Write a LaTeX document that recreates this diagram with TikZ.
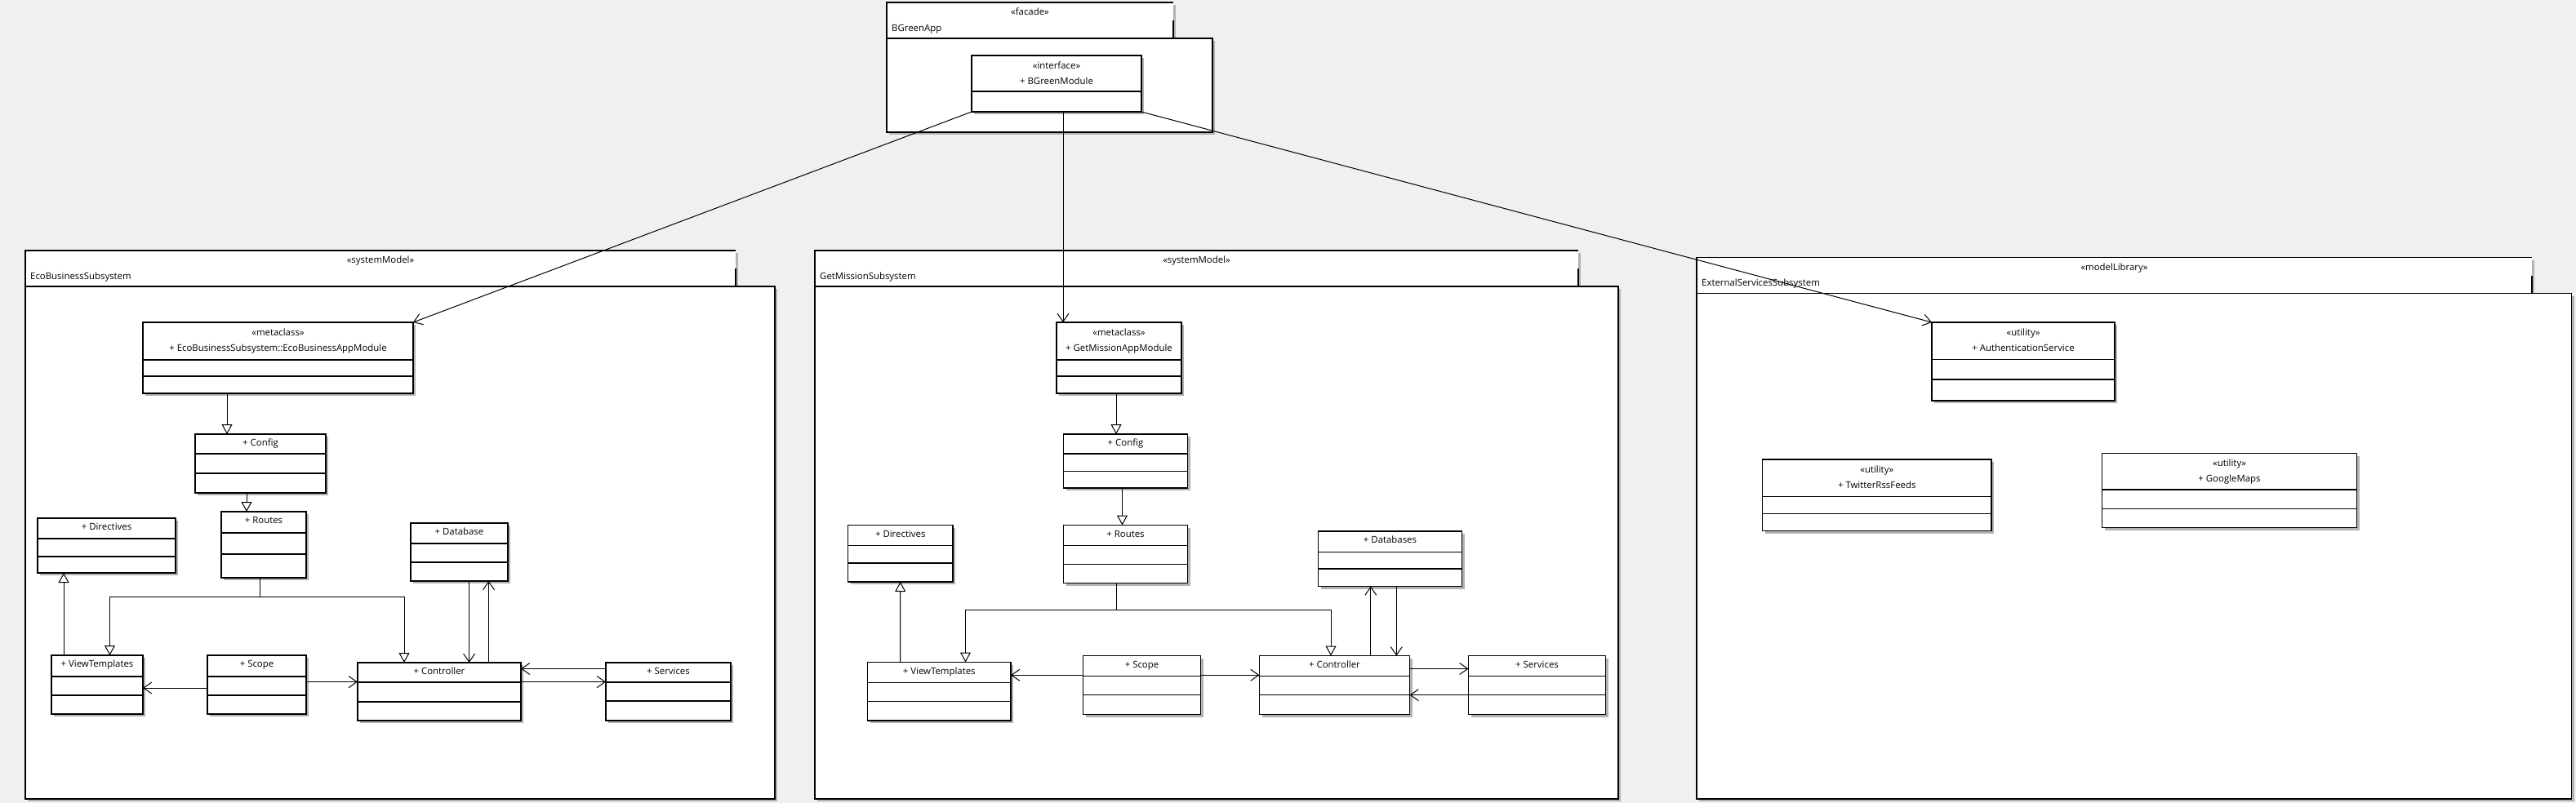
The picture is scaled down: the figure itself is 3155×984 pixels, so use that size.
\documentclass[tikz,border=0pt]{standalone}
\usepackage{fontspec}
\setmainfont{Open Sans}
\usetikzlibrary{arrows.meta,fit,calc}
\definecolor{bg}{RGB}{240,240,240}
\definecolor{shd}{RGB}{178,178,178}
\tikzset{
  clsbox/.style={draw=black, line width=1.3pt, fill=white, inner sep=0pt, outer sep=0pt},
  sepline/.style={line width=1.1pt},
  txt/.style={inner sep=0pt, font=\fontsize{11.4}{13}\selectfont, text height=8.2pt, text depth=0pt},
  shadowc/.style={fill=shd},
  assoc/.style={line width=1pt, -{Straight Barb[length=10pt,width=14pt]}},
  gen/.style={line width=1pt, -{Triangle[open,length=12pt,width=13pt]}},
  pkgbody/.style={draw=black, line width=1.3pt, fill=white, inner sep=0pt, outer sep=0pt},
  pkgline/.style={line width=1.3pt},
}
% class without stereotype: name, x1, y1, x2, y2, sep1, sep2, title
\newcommand\clsA[8]{%
  \fill[shadowc] (#2+3,#3+3) rectangle (#4+3,#5+3);
  \node[clsbox, fit={(#2,#3) (#4,#5)}] (#1) {};
  \draw[sepline] (#2,#6) -- (#4,#6) (#2,#7) -- (#4,#7);
  \node[txt] (#1-t) at ([yshift=-10.5pt]#1.north) {#8};
}
% class with stereotype: name, x1, y1, x2, y2, sep1, sep2, stereotype, title
\newcommand\clsB[9]{%
  \fill[shadowc] (#2+3,#3+3) rectangle (#4+3,#5+3);
  \node[clsbox, fit={(#2,#3) (#4,#5)}] (#1) {};
  \draw[sepline] (#2,#6) -- (#4,#6) (#2,#7) -- (#4,#7);
  \node[txt] (#1-s) at ([yshift=-12pt]#1.north) {#8};
  \node[txt] (#1-t) at ([yshift=-31pt]#1.north) {#9};
}
% package: name, x1, ytabtop, xtab2, ybodytop, xbody2, ybottom, stereotype, title
\newcommand\pkgframe[9]{%
  \fill[shadowc] (#2+3,#3+3) rectangle (#4+3,#5);
  \fill[shadowc] (#2+3,#5+3) rectangle (#6+3,#7+3);
  \fill[white] (#2,#3) rectangle (#4,#5);
  \draw[pkgline] (#4,#3) -- (#2,#3) -- (#2,#5);
  \draw[pkgline] (#4,#3+22) -- (#4,#5);
  \node[pkgbody, fit={(#2,#5) (#6,#7)}] (#1) {};
  \node[txt] (#1-s) at ({(#2+#4)/2},#3+11.5) {#8};
  \node[txt, anchor=west] (#1-n) at (#2+6,#3+31) {#9};
}
\begin{document}
\begin{tikzpicture}[x=1pt,y=-1pt]
\fill[bg] (0,0) rectangle (3155,984);
\useasboundingbox (0,0) rectangle (3155,984);

% ---------- packages ----------
\pkgframe{bgapp}{1086}{3}{1437}{47}{1485}{162}{«facade»}{BGreenApp}
\pkgframe{ecopkg}{31}{307}{901}{351}{949}{979}{«systemModel»}{EcoBusinessSubsystem}
\pkgframe{gmpkg}{998}{307}{1933}{351}{1982}{979}{«systemModel»}{GetMissionSubsystem}
\pkgframe{extpkg}{2078}{315.5}{3101}{359.5}{3149.5}{979}{«modelLibrary»}{ExternalServicesSubsystem}

% ---------- BGreenApp ----------
\clsB{bgm}{1190}{68}{1398}{137}{112}{112}{«interface»}{+ BGreenModule}

% ---------- EcoBusinessSubsystem ----------
\clsB{emeta}{175}{395}{506}{482}{441}{461}{«metaclass»}{+ EcoBusinessSubsystem::EcoBusinessAppModule}
\clsA{econfig}{239}{532}{399}{604}{556}{580}{+ Config}
\clsA{eroutes}{271}{627}{375}{708}{653}{679}{+ Routes}
\clsA{edir}{46}{635}{215}{702}{660}{682}{+ Directives}
\clsA{edb}{503}{641}{622}{712}{666}{689}{+ Database}
\clsA{evt}{63}{803}{175}{875}{829}{852}{+ ViewTemplates}
\clsA{escope}{254}{803}{375}{875}{829}{852}{+ Scope}
\clsA{ectrl}{438}{812}{638}{883}{836}{860}{+ Controller}
\clsA{esvc}{742}{812}{895}{883}{836}{859}{+ Services}

% ---------- GetMissionSubsystem ----------
\clsB{gmeta}{1294}{395}{1447}{482}{441}{461}{«metaclass»}{+ GetMissionAppModule}
\clsA{gconfig}{1302.5}{532}{1454.5}{598}{556}{577.5}{+ Config}
\clsA{groutes}{1302.5}{643.5}{1454.5}{714.5}{668.5}{691.5}{+ Routes}
\clsA{gdir}{1038.5}{643.5}{1167}{713}{668.5}{690}{+ Directives}
\clsA{gdb}{1614.5}{651}{1790.5}{718.5}{676.5}{697}{+ Databases}
\clsA{gvt}{1062.5}{811.5}{1238}{883}{836.5}{859.5}{+ ViewTemplates}
\clsA{gscope}{1326.5}{803.5}{1470.5}{875.5}{828.5}{851.5}{+ Scope}
\clsA{gctrl}{1542.5}{803.5}{1726.5}{875.5}{828.5}{851.5}{+ Controller}
\clsA{gsvc}{1798.5}{803.5}{1966.5}{875.5}{828.5}{851.5}{+ Services}

% ---------- ExternalServicesSubsystem ----------
\clsB{xauth}{2366}{395}{2590}{491}{440.5}{465}{«utility»}{+ AuthenticationService}
\clsB{xtwit}{2158.5}{563}{2439}{650.5}{608.5}{629.5}{«utility»}{+ TwitterRssFeeds}
\clsB{xgmap}{2574.5}{555.5}{2886.5}{646.5}{600}{623.5}{«utility»}{+ GoogleMaps}

% ---------- connectors from BGreenModule ----------
\draw[assoc] (bgm.south west) -- (emeta.north east);
\draw[assoc] ([xshift=8pt]bgm.south) -- ([xshift=-68.5pt]gmeta.north);
\draw[assoc] (bgm.south east) -- (xauth.north west);

% ---------- EcoBusiness connectors ----------
\coordinate (ej) at (318.5,731.5);
\draw[gen] ([xshift=-62.5pt]emeta.south) -- ([xshift=-41pt]econfig.north);
\draw[gen] ([xshift=-17pt]econfig.south) -- ([xshift=-21pt]eroutes.north);
\draw[gen] ([xshift=-4.5pt]eroutes.south) -- (ej) -| ([xshift=15.5pt]evt.north);
\draw[gen] (ej) -| ([xshift=-43pt]ectrl.north);
\draw[gen] ([xshift=-41pt]evt.north) -- ([xshift=-52.5pt]edir.south);
\draw[assoc] ([yshift=-4pt]escope.west) -- ([yshift=-4pt]evt.east);
\draw[assoc] ([yshift=3.4pt]escope.east) -- ([yshift=11.9pt]ectrl.west);
\draw[assoc] ([xshift=12.1pt]edb.south) -- ([xshift=36.6pt]ectrl.north);
\draw[assoc] ([xshift=60.5pt]ectrl.north) -- ([xshift=36pt]edb.south);
\draw[assoc] ([yshift=28pt]esvc.west) -- ([yshift=28pt]ectrl.east);
\draw[assoc] ([yshift=11.9pt]ectrl.east) -- ([yshift=11.9pt]esvc.west);

% ---------- GetMission connectors ----------
\coordinate (gj) at (1367,747);
\draw[gen] ([xshift=-3.5pt]gmeta.south) -- ([xshift=-11.5pt]gconfig.north);
\draw[gen] ([xshift=-4pt]gconfig.south) -- ([xshift=-4pt]groutes.north);
\draw[gen] ([xshift=-11.5pt]groutes.south) -- (gj) -| ([xshift=32.25pt]gvt.north);
\draw[gen] (gj) -| ([xshift=-4.5pt]gctrl.north);
\draw[gen] ([xshift=-47.75pt]gvt.north) -- ([xshift=0pt]gdir.south);
\draw[assoc] ([yshift=12.2pt]gscope.west) -- ([yshift=19.95pt]gvt.east);
\draw[assoc] ([yshift=12.2pt]gscope.east) -- ([yshift=12.2pt]gctrl.west);
\draw[assoc] ([xshift=44.3pt]gctrl.north) -- ([xshift=-23.7pt]gdb.south);
\draw[assoc] ([xshift=7.8pt]gdb.south) -- ([xshift=75.8pt]gctrl.north);
\draw[assoc] ([yshift=20pt]gctrl.east) -- ([yshift=20pt]gsvc.west);
\draw[assoc] ([yshift=-12.1pt]gsvc.west) -- ([yshift=-12.1pt]gctrl.east);
\end{tikzpicture}
\end{document}
